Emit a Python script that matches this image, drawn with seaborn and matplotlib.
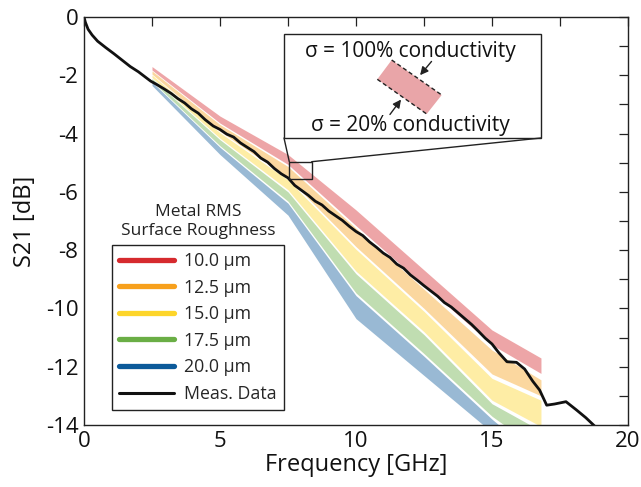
import numpy as np
import pandas as pd
import matplotlib
matplotlib.use("Agg")
import matplotlib.pyplot as plt
import seaborn as sns
from matplotlib.lines import Line2D
from matplotlib.patches import Polygon, Rectangle

# ---------------- data ----------------
band_x = [2.5, 5.0, 7.5, 10.0, 12.5, 15.0, 16.8]

red_hi = [-1.70, -3.40, -4.72, -6.62, -8.68, -10.74, -11.70]
red_lo = [-1.82, -3.64, -5.06, -7.16, -9.20, -11.25, -12.23]
orange_hi = [-1.85, -3.69, -5.13, -7.25, -9.34, -11.43, -12.45]
orange_lo = [-1.96, -3.92, -5.52, -7.88, -10.00, -12.25, -13.00]
yellow_hi = [-1.99, -3.97, -5.59, -7.97, -10.10, -12.40, -13.15]
yellow_lo = [-2.08, -4.16, -5.93, -8.72, -10.80, -13.15, -14.05]
green_hi = [-2.11, -4.21, -6.00, -8.81, -10.90, -13.27, -14.20]
green_lo = [-2.20, -4.42, -6.32, -9.47, -11.55, -13.70, -14.90]
blue_hi = [-2.23, -4.47, -6.39, -9.56, -11.64, -13.80, -15.20]
blue_lo = [-2.35, -4.72, -6.80, -10.35, -12.30, -14.25, -15.80]

roughness_labels = ["10.0 µm", "12.5 µm", "15.0 µm", "17.5 µm", "20.0 µm"]
roughness_colors = ["#d62a2e", "#f7a01c", "#fdd52a", "#6aae45", "#0c5a9a"]

meas_x = [0, 0.05, 0.15, 0.3, 0.5, 0.8, 1.1, 1.4, 1.7, 2.0, 2.45, 2.7, 2.95,
          3.2, 3.45, 3.7, 3.95, 4.2, 4.45, 4.75, 5.0, 5.25, 5.5, 5.75, 6.0,
          6.25, 6.5, 6.75, 7.0, 7.25, 7.5, 7.75, 8.0, 8.25, 8.5, 8.75, 9.0,
          9.25, 9.5, 9.75, 10.0, 10.25, 10.5, 10.75, 11.0, 11.25, 11.5,
          11.75, 12.0, 12.25, 12.5, 12.75, 13.0, 13.25, 13.5, 13.75, 14.0,
          14.25, 14.5, 14.75, 15.0, 15.25, 15.55, 15.9, 16.2, 16.5, 16.75,
          17.01, 17.3, 17.72, 18.1, 18.45, 18.8]
meas_y = [0, -0.18, -0.42, -0.62, -0.83, -1.05, -1.26, -1.48, -1.70, -1.88,
          -2.20, -2.33, -2.47, -2.62, -2.80, -2.95, -3.15, -3.30, -3.52,
          -3.74, -3.86, -4.02, -4.12, -4.32, -4.47, -4.62, -4.84, -4.98,
          -5.20, -5.38, -5.52, -5.78, -5.95, -6.12, -6.32, -6.45, -6.66,
          -6.82, -6.98, -7.18, -7.36, -7.50, -7.72, -7.90, -8.10, -8.25,
          -8.48, -8.62, -8.85, -9.03, -9.22, -9.40, -9.58, -9.80, -9.95,
          -10.15, -10.35, -10.55, -10.78, -11.02, -11.22, -11.52, -11.83,
          -11.85, -12.08, -12.50, -12.80, -13.32, -13.28, -13.20, -13.48,
          -13.75, -14.06]

x_ticks = [0, 5, 10, 15, 20]
y_ticks = [0, -2, -4, -6, -8, -10, -12, -14]

# ---------------- style ----------------
sns.set_theme(style="white")
plt.rcParams["font.family"] = ["Open Sans", "DejaVu Sans"]
plt.rcParams["axes.unicode_minus"] = False

W, H = 641, 487
fig = plt.figure(figsize=(W / 100, H / 100), dpi=100)
ax = fig.add_axes([84 / W, 1 - 425 / H, (628 - 84) / W, (425 - 17) / H])

bands = [(red_hi, red_lo), (orange_hi, orange_lo), (yellow_hi, yellow_lo),
         (green_hi, green_lo), (blue_hi, blue_lo)]
for (hi, lo), col in zip(bands, roughness_colors):
    ax.fill_between(band_x, hi, lo, color=col, alpha=0.42, lw=0)

meas = pd.DataFrame({"f": meas_x, "s21": meas_y})
sns.lineplot(data=meas, x="f", y="s21", ax=ax, color="#111111", lw=2.0,
             estimator=None, sort=False)

ax.set_xlim(0, 20)
ax.set_ylim(-14, 0)
ax.set_xticks(x_ticks)
ax.set_yticks(y_ticks)
ax.set_xticks(np.arange(0, 20.01, 2.5), minor=True)
ax.set_yticks(np.arange(-14, 0.01, 1), minor=True)
ax.tick_params(which="both", direction="in", top=True, right=True,
               length=6.5, width=0.9, color="#222222", labelsize=16,
               labelcolor="#111111", pad=4)
for s in ax.spines.values():
    s.set_color("#222222")
    s.set_linewidth(1.0)
ax.set_xlabel("Frequency [GHz]", fontsize=17, color="#111111", labelpad=1)
ax.set_ylabel("S21 [dB]", fontsize=17, color="#111111", labelpad=6)

# legend
handles = [Line2D([], [], color=c, lw=3.8) for c in roughness_colors]
handles.append(Line2D([], [], color="#111111", lw=2.2))
labels = roughness_labels + ["Meas. Data"]
leg = ax.legend(handles, labels, loc="upper left",
                bbox_to_anchor=((112 - 84) / 544, (425 - 245) / 408),
                borderaxespad=0, fontsize=12.8, frameon=True, fancybox=False,
                handlelength=3.1, handletextpad=0.55, labelspacing=0.48,
                borderpad=0.4)
leg.get_frame().set_edgecolor("#222222")
leg.get_frame().set_linewidth(1.0)
leg.get_frame().set_alpha(1)
ax.text(0.2096, 0.499, "Metal RMS\nSurface Roughness", transform=ax.transAxes,
        ha="center", va="center", fontsize=12.5, color="#222222",
        linespacing=1.25)

# inset callout
def px(x, y):
    return ((x - 84) / 544, (425 - y) / 408)

ax.add_patch(Rectangle(px(284, 138), (541 - 284) / 544, (138 - 34) / 408,
                       transform=ax.transAxes, fill=True, fc="white",
                       ec="#222222", lw=1.0, zorder=5))
ax.add_patch(Rectangle((7.55, -5.57), 0.82, 0.61, fill=False, ec="#222222",
                       lw=1.0, zorder=5))
for (a, b) in [((284, 138), (289.3, 161.7)), ((541, 138), (311.7, 161.7))]:
    p0, p1 = px(*a), px(*b)
    ax.plot([p0[0], p1[0]], [p0[1], p1[1]], transform=ax.transAxes,
            color="#222222", lw=1.0, zorder=5)
poly = [px(377.3, 79.3), px(391.7, 60), px(441.7, 95), px(426.7, 114)]
ax.add_patch(Polygon(poly, closed=True, transform=ax.transAxes,
                     fc="#e9a5a8", ec="none", zorder=6))
for (a, b) in [(poly[1], poly[2]), (poly[0], poly[3])]:
    ax.plot([a[0], b[0]], [a[1], b[1]], transform=ax.transAxes,
            color="#222222", lw=1.0, ls=(0, (3, 2)), zorder=7)
ax.annotate("", xy=px(418.3, 77.3), xytext=px(433.3, 59.3),
            xycoords="axes fraction", textcoords="axes fraction",
            arrowprops=dict(arrowstyle="-|>", color="#222222", lw=1.0,
                            mutation_scale=12), zorder=7)
ax.annotate("", xy=px(402.7, 97.3), xytext=px(388.3, 116.7),
            xycoords="axes fraction", textcoords="axes fraction",
            arrowprops=dict(arrowstyle="-|>", color="#222222", lw=1.0,
                            mutation_scale=12), zorder=7)
t1 = px(410, 51.7)
t2 = px(410, 125)
ax.text(t1[0], t1[1], "σ = 100% conductivity", transform=ax.transAxes,
        ha="center", va="center", fontsize=15, color="#111111", zorder=7)
ax.text(t2[0], t2[1], "σ = 20% conductivity", transform=ax.transAxes,
        ha="center", va="center", fontsize=15, color="#111111", zorder=7)

fig.savefig("out.png", dpi=100)
